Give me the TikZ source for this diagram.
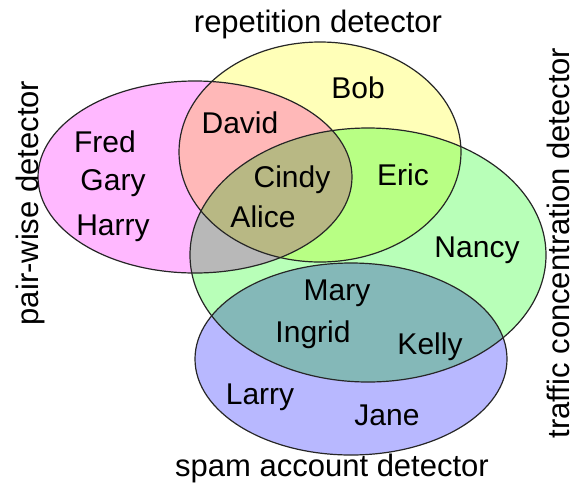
\documentclass[tikz,border=0pt]{standalone}
\usepackage{fontspec}
\setmainfont{Liberation Sans}
\definecolor{pairpink}{RGB}{255,184,255}
\definecolor{reptyellow}{RGB}{255,255,184}
\definecolor{trafgreen}{RGB}{184,255,184}
\definecolor{spamblue}{RGB}{184,184,255}
\begin{document}
\begin{tikzpicture}[x=1pt, y=-1pt,
  set/.style = {draw=black!85, line width=1.2pt},
  member/.style = {font=\fontsize{30}{34}\selectfont, inner sep=0pt},
  detector/.style = {font=\fontsize{31}{36}\selectfont, inner sep=0pt},
  ]
  \useasboundingbox (0,0) rectangle (575,485);
  % the four detectors
  \begin{scope}[blend group=multiply]
    \fill[pairpink]   (195,177) ellipse [x radius=157pt, y radius=96pt];
    \fill[reptyellow] (320,152) ellipse [x radius=141pt, y radius=110pt];
    \fill[trafgreen]  (368,255) ellipse [x radius=178pt, y radius=127pt];
    \fill[spamblue]   (351,359) ellipse [x radius=156pt, y radius=96pt];
  \end{scope}
  \draw[set] (195,177) ellipse [x radius=157pt, y radius=96pt];
  \draw[set] (320,152) ellipse [x radius=141pt, y radius=110pt];
  \draw[set] (368,255) ellipse [x radius=178pt, y radius=127pt];
  \draw[set] (351,359) ellipse [x radius=156pt, y radius=96pt];
  % labels
  \node[detector] (repetition) at (318,24) {repetition detector};
  \node[detector, rotate=90] (pairwise) at (30,203) {pair-wise detector};
  \node[detector, rotate=90] (traffic) at (558,243) {traffic concentration detector};
  \node[detector] (spam) at (332,468) {spam account detector};
  % accounts
  \node[member] (fred)   at (105,142) {Fred};
  \node[member] (gary)   at (113,183) {Gary};
  \node[member] (harry)  at (113,228) {Harry};
  \node[member] (david)  at (240,123) {David};
  \node[member] (bob)    at (358,88)  {Bob};
  \node[member] (cindy)  at (292,180) {Cindy};
  \node[member] (alice)  at (263,217) {Alice};
  \node[member] (eric)   at (403,175) {Eric};
  \node[member] (nancy)  at (477,250) {Nancy};
  \node[member] (mary)   at (337,293) {Mary};
  \node[member] (ingrid) at (313,335) {Ingrid};
  \node[member] (kelly)  at (430,347) {Kelly};
  \node[member] (larry)  at (260,397) {Larry};
  \node[member] (jane)   at (387,415) {Jane};
\end{tikzpicture}
\end{document}
